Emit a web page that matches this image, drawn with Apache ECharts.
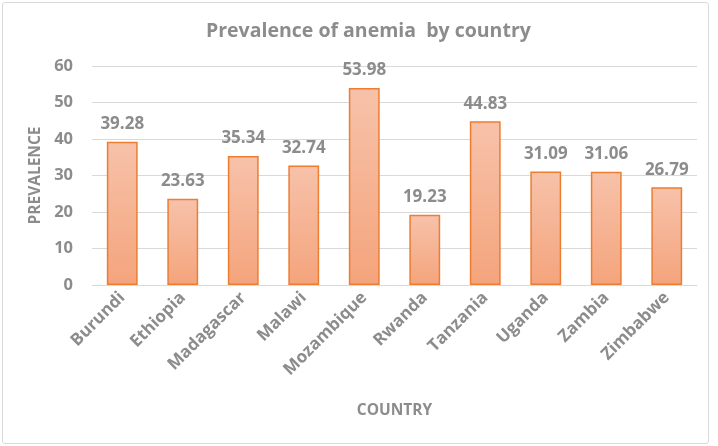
<!DOCTYPE html>
<html><head><meta charset="utf-8">
<script src="https://cdn.jsdelivr.net/npm/echarts@6/dist/echarts.min.js"></script>
<style>html,body{margin:0;padding:0;background:#fff}#c{width:718px;height:446px}
#frame{position:absolute;left:2px;top:2px;width:705px;height:440px;border:1px solid #d9d9d9;border-radius:3px;pointer-events:none}</style>
</head><body><div id="c"></div><div id="frame"></div>
<script>
const categories = ['Burundi','Ethiopia','Madagascar','Malawi','Mozambique','Rwanda','Tanzania','Uganda','Zambia','Zimbabwe'];
const prevalence = [39.28, 23.63, 35.34, 32.74, 53.98, 19.23, 44.83, 31.09, 31.06, 26.79];
const yTicks = [0, 10, 20, 30, 40, 50, 60];
const gray = '#8c8c8c';
const font = '"Open Sans", sans-serif';
const chart = echarts.init(document.getElementById('c'));
chart.setOption({
  animation: false,
  title: { text: 'Prevalence of anemia  by country', left: 201, top: 16,
    textStyle: { fontFamily: font, fontSize: 19.5, fontWeight: 'bold', color: gray } },
  grid: { left: 92, right: 21, top: 66, bottom: 161 },
  xAxis: { type: 'category', data: categories, name: 'COUNTRY', nameLocation: 'middle', nameGap: 118,
    nameTextStyle: { fontFamily: font, fontSize: 15.5, fontWeight: 'bold', color: gray },
    axisLine: { lineStyle: { color: '#d9d9d9' } }, axisTick: { show: false },
    axisLabel: { rotate: 45, interval: 0, fontFamily: font, fontSize: 17, fontWeight: 'bold', color: gray, margin: 10 } },
  yAxis: { type: 'value', min: 0, max: 60, interval: 10, name: 'PREVALENCE', nameLocation: 'middle', nameGap: 42,
    nameTextStyle: { fontFamily: font, fontSize: 15.5, fontWeight: 'bold', color: gray },
    axisLine: { show: false }, axisTick: { show: false },
    splitLine: { lineStyle: { color: '#d9d9d9' } },
    axisLabel: { fontFamily: font, fontSize: 16.5, fontWeight: 'bold', color: gray, margin: 19,
      formatter: v => yTicks.includes(v) ? String(v) : '' } },
  series: [{ type: 'bar', data: prevalence, barWidth: '51%',
    itemStyle: { borderColor: '#ed7d31', borderWidth: 1.5,
      color: new echarts.graphic.LinearGradient(0, 0, 0, 1, [{ offset: 0, color: '#f7c2aa' }, { offset: 1, color: '#f4a47c' }]) },
    label: { show: true, position: 'top', distance: 9, fontFamily: font, fontSize: 17, fontWeight: 'bold', color: gray,
      formatter: p => p.value.toFixed(2) } }]
});
</script></body></html>
